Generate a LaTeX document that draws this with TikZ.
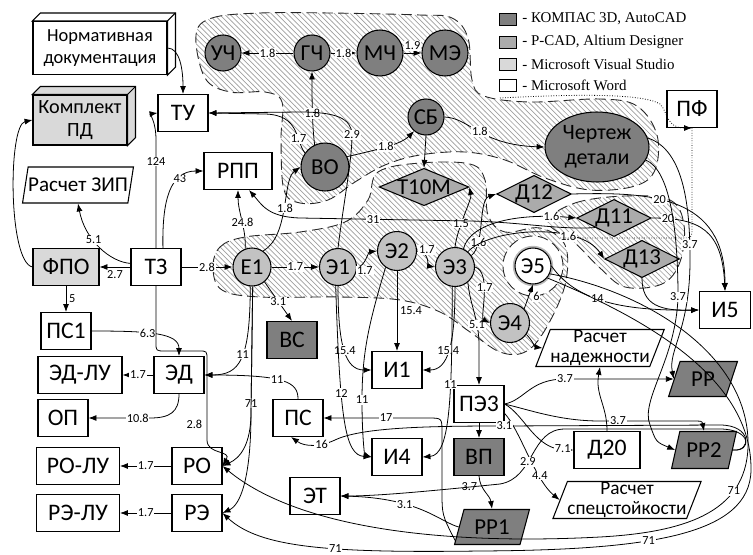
\documentclass[tikz,border=0pt]{standalone}
\usepackage{fontspec}
\setmainfont{Carlito}
\newfontfamily\legendfont{Liberation Serif}
\usetikzlibrary{shapes.geometric,arrows.meta,patterns}

\definecolor{kompas}{HTML}{7F7F7F}
\definecolor{pcad}{HTML}{ABABAB}
\definecolor{elem}{HTML}{C2C2C2}
\definecolor{vstudio}{HTML}{D9D9D9}

% top and side faces of a solid box
\newcommand{\boxdepth}[2]{%
  \draw[line width=0.6pt, fill=#2] (#1.north west) -- ([shift={(8,-8)}]#1.north west) -- ([shift={(8,-8)}]#1.north east) -- ([shift={(8,-8)}]#1.south east) -- (#1.south east) -- (#1.north east) -- cycle;
  \draw[line width=0.6pt] (#1.north east) -- ([shift={(8,-8)}]#1.north east);}

\begin{document}
\begin{tikzpicture}[x=0.02cm, y=-0.02cm,
  box/.style={draw, line width=0.6pt, fill=white, minimum width=1cm, minimum height=0.74cm, inner sep=1pt, font=\fontsize{13.5}{15}\selectfont},
  circ/.style={circle, draw, line width=0.6pt, fill=elem, minimum size=0.74cm, inner sep=0pt, font=\fontsize{13}{14}\selectfont},
  rhomb/.style={diamond, aspect=2, draw, line width=0.6pt, fill=pcad, minimum width=1.36cm, minimum height=0.72cm, inner sep=0pt, font=\fontsize{13}{14}\selectfont},
  slant/.style={trapezium, trapezium left angle=68, trapezium right angle=112, trapezium stretches=true, draw, line width=0.6pt, fill=white, minimum height=0.74cm, inner sep=0pt, align=center, font=\fontsize{11}{11.5}\selectfont},
  arr/.style={-{Latex[length=4.5pt,width=3.4pt]}, line width=0.45pt},
  lbl/.style={fill=white, inner sep=0.5pt, font=\fontsize{7}{8}\selectfont},
  zone/.style={pattern=north west lines, pattern color=gray!75, draw=gray!30!black, dash pattern=on 6pt off 3pt, line width=0.5pt},
  legbox/.style={draw, line width=0.5pt, minimum width=0.34cm, minimum height=0.24cm, inner sep=0pt},
  legtext/.style={anchor=west, inner sep=0pt, font=\legendfont\fontsize{8.5}{10}\selectfont}]

\useasboundingbox (0,0) rectangle (753,554);

% hatched groups
\path[zone] plot[smooth cycle, tension=0.6] coordinates {(196,35) (212,18) (260,13) (330,13) (420,15) (452,18) (468,38) (472,80) (484,96) (530,102) (600,99) (637,106) (657,135) (655,170) (635,186) (590,190) (545,178) (505,160) (465,152) (420,155) (385,165) (355,182) (328,200) (300,203) (284,190) (281,140) (282,102) (265,92) (230,92) (205,78)};
\path[zone] plot[smooth cycle, tension=0.6] coordinates {(213,268) (220,247) (245,237) (300,232) (345,222) (368,200) (378,172) (420,163) (470,164) (485,180) (488,215) (505,232) (540,228) (565,245) (565,285) (545,330) (525,352) (500,352) (470,332) (440,312) (400,300) (340,297) (260,297) (222,290)};
\path[zone] plot[smooth cycle, tension=0.6] coordinates {(548,222) (575,203) (625,196) (670,200) (684,225) (680,262) (662,284) (625,287) (600,268) (575,243)};
\draw[fill=white, draw=gray!30!black, dash pattern=on 6pt off 3pt, line width=0.5pt] (533,266) circle (0.6cm);

% legend
\node[legbox, fill=kompas] (lg1) at (508,19) {};
\node[legtext] (lt1) at (522,19) {- КОМПАС 3D, AutoCAD};
\node[legbox, fill=pcad] (lg2) at (508,42) {};
\node[legtext] (lt2) at (522,42) {- P-CAD, Altium Designer};
\node[legbox, fill=vstudio] (lg3) at (508,64) {};
\node[legtext] (lt3) at (522,64) {- Microsoft Visual Studio};
\node[legbox, fill=white] (lg4) at (508,85) {};
\node[legtext] (lt4) at (522,85) {- Microsoft Word};

% nodes
\node[box, minimum width=2.68cm, minimum height=1.06cm, align=center, font=\fontsize{10.5}{12.5}\selectfont] (norm) at (100,48) {Нормативная\\документация};
\boxdepth{norm}{white}
\node[box, fill=vstudio, minimum width=1.88cm, minimum height=1cm, align=center, font=\fontsize{11.5}{13.5}\selectfont] (kpd) at (80,120) {Комплект\\ПД};
\boxdepth{kpd}{vstudio}
\node[box] (tu) at (183,113) {ТУ};
\node[box, minimum width=1.36cm] (rpp) at (238,171) {РПП};
\node[slant, minimum width=2.2cm, minimum height=0.72cm, font=\fontsize{12}{13}\selectfont] (zip) at (78,185) {Расчет ЗИП};
\node[box, fill=vstudio, minimum width=1.32cm] (fpo) at (66,267) {ФПО};
\node[box] (tz) at (156,267) {ТЗ};
\node[box] (ps1) at (66,331) {ПС1};
\node[box] (ed) at (179,375) {ЭД};
\node[box, minimum width=1.68cm] (edlu) at (80,375) {ЭД-ЛУ};
\node[box] (op) at (63,418) {ОП};
\node[box, minimum width=1.66cm] (rolu) at (78,466) {РО-ЛУ};
\node[box] (ro) at (197,466) {РО};
\node[box, minimum width=1.66cm] (relu) at (78,513) {РЭ-ЛУ};
\node[box] (re) at (197,513) {РЭ};
\node[box, fill=kompas] (vs) at (292,340) {ВС};
\node[box] (ps) at (298,418) {ПС};
\node[box] (i1) at (397,370) {И1};
\node[box] (i4) at (397,457) {И4};
\node[box] (et) at (315,496) {ЭТ};
\node[box] (pez) at (479,404) {ПЭ3};
\node[box, fill=kompas] (vp) at (479,457) {ВП};
\node[slant, fill=kompas, minimum width=1.5cm, minimum height=0.7cm, font=\fontsize{13}{14}\selectfont] (rr1) at (492,527) {РР1};
\node[box, minimum width=1.32cm] (d20) at (607,450) {Д20};
\node[slant, minimum width=2.98cm] (spec) at (627,500) {Расчет\\спецстойкости};
\node[slant, fill=kompas, minimum width=1.38cm, minimum height=0.7cm, font=\fontsize{13}{14}\selectfont] (rr) at (703,379) {РР};
\node[slant, fill=kompas, minimum width=1.3cm, font=\fontsize{13}{14}\selectfont] (rr2) at (704,450) {РР2};
\node[slant, minimum width=2.32cm] (nad) at (600,348) {Расчет\\надежности};
\node[box, minimum width=1.02cm] (i5) at (725,310) {И5};
\node[box] (pf) at (692,109) {ПФ};
\node[rhomb] (d12) at (534,194) {Д12};
\node[rhomb] (d11) at (614,218) {Д11};
\node[rhomb] (d13) at (642,259) {Д13};
\node[rhomb, aspect=2.4, minimum width=1.74cm] (t10m) at (424,187) {Т10М};
\node[circ, minimum size=0.76cm] (e1) at (252,267) {Е1};
\node[circ] (eh1) at (338,267) {Э1};
\node[circ, minimum size=0.78cm] (eh2) at (397,251) {Э2};
\node[circ, minimum size=0.78cm] (eh3) at (455,267) {Э3};
\node[circ, minimum size=0.78cm] (eh4) at (510,323) {Э4};
\node[circ, fill=white, minimum size=0.72cm, preaction={draw=gray!55, line width=2.5pt}] (eh5) at (533,266) {Э5};
\node[circ, fill=kompas, minimum size=0.72cm] (uch) at (223,53) {УЧ};
\node[circ, fill=kompas, minimum size=0.72cm] (gch) at (312,53) {ГЧ};
\node[circ, fill=kompas, minimum size=0.92cm] (mch) at (380,53) {МЧ};
\node[circ, fill=kompas, minimum size=0.92cm] (me) at (445,53) {МЭ};
\node[circ, fill=kompas, minimum size=0.72cm] (sb) at (426,117) {СБ};
\node[circ, fill=kompas, minimum size=0.96cm] (vo) at (325,167) {ВО};
\node[ellipse, draw, line width=0.6pt, fill=kompas, minimum width=2.08cm, minimum height=1.4cm, inner sep=0pt, align=center, font=\fontsize{12.5}{14}\selectfont] (cher) at (597,147) {Чертеж\\детали};

% connectors
\draw[arr] (gch) -- node[lbl]{1.8} (uch);
\draw[arr] (gch) -- node[lbl]{1.8} (mch);
\draw[arr] (mch) -- node[lbl, above=1pt]{1.9} (me);
\draw[arr] (vo.115) .. controls (312,125) and (312,95) .. node[lbl, pos=0.45]{1.8} (gch.south);
\draw[arr] (vo.145) .. controls (295,140) and (300,115) .. node[lbl, pos=0.3]{1.7} (265,114) -- (tu.east);
\draw[arr] (eh1.north) .. controls (344,200) and (352,160) .. (352,135) node[lbl]{2.9} .. controls (352,118) and (335,112) .. (300,112) -- (tu.east);
\draw[arr] (vo.25) .. controls (375,150) and (400,145) .. node[lbl]{1.8} (sb.230);
\draw[arr] (sb.east) .. controls (470,118) and (480,145) .. node[lbl]{1.8} (cher.west);
\draw[arr] (sb.south) -- (t10m.north);
\draw[arr] (norm.east) .. controls (180,48) and (183,70) .. (tu.north);

\draw[arr] (tz.north) -- node[lbl, pos=0.8]{124} (156,140) .. controls (156,122) and (150,114) .. (tu.west);
\draw[arr] (tz.70) .. controls (162,200) and (170,171) .. node[lbl, pos=0.7]{43} (rpp.west);
\draw[arr] (tz.172) .. controls (110,262) and (85,240) .. node[lbl, pos=0.6]{5.1} (zip.south);
\draw[arr] (tz.west) -- node[lbl, below=1.5pt]{2.7} (fpo.east);
\draw[arr] (tz.east) -- node[lbl]{2.8} (e1.west);
\draw[arr] (fpo.west) .. controls (8,262) and (8,125) .. (kpd.west);
\draw[arr] (fpo.south) -- node[lbl, right=1pt]{5} (ps1.north);
\draw[arr] (ps1.east) .. controls (150,331) and (179,333) .. node[lbl, pos=0.4]{6.3} (ed.north);
\draw[arr] (ed) -- node[lbl]{1.7} (edlu);
\draw[arr] (ed.south) .. controls (179,412) and (170,418) .. (150,418) -- node[lbl, pos=0.2]{10.8} (op.east);
\draw[arr] (tz.south) -- (156,343) .. controls (156,351) .. (166,351) -- (199,351) .. controls (207,351) .. (207,360) -- node[lbl, left=2pt, pos=0.8]{2.8} (207,440) .. controls (207,455) and (232,450) .. (ro.east);

\draw[arr] (e1.110) .. controls (246,228) and (238,212) .. node[lbl, pos=0.45]{24.8} (rpp.south);
\draw[arr] (e1.55) .. controls (290,235) and (282,180) .. node[lbl]{1.8} (vo.west);
\draw[arr] (e1) -- node[lbl]{1.7} (eh1);
\draw[arr] (e1.-50) -- node[lbl]{3.1} (vs.north);
\draw[arr] (e1.265) .. controls (250,360) and (240,375) .. node[lbl, pos=0.45]{11} (ed.east);
\draw[arr] (e1.272) -- node[lbl, pos=0.93]{71} (251,412) .. controls (251,445) and (240,458) .. (ro.east);
\draw[arr] (e1.272) -- (251,412) .. controls (251,480) and (240,505) .. (re.east);
\draw[arr] (ps.north) .. controls (298,382) and (285,375) .. node[lbl, pos=0.55]{11} (ed.east);
\draw[arr] (ro) -- node[lbl]{1.7} (rolu);
\draw[arr] (re) -- node[lbl]{1.7} (relu);

\draw[arr] (eh1.east) .. controls (365,267) and (368,252) .. node[lbl, pos=0.4, below=2pt]{1.7} (eh2.west);
\draw[arr] (eh2.east) .. controls (430,252) and (428,266) .. node[lbl, pos=0.4, above=1pt]{1.7} (eh3.west);
\draw[arr] (eh2.south) -- node[lbl, right=1pt]{15.4} (i1.north);
\draw[arr] (eh1.south) .. controls (338,345) and (345,370) .. node[lbl]{15.4} (i1.west);
\draw[arr] (eh3.south) .. controls (455,345) and (448,370) .. node[lbl]{15.4} (i1.east);
\draw[arr] (eh1.263) .. controls (340,420) and (345,455) .. node[lbl, pos=0.35]{12} (i4.west);
\draw[arr] (eh2.235) .. controls (370,320) and (362,350) .. (362,400) node[lbl]{11} .. controls (362,440) and (365,455) .. (i4.west);
\draw[arr] (eh3.262) .. controls (452,400) and (450,455) .. node[lbl, pos=0.35]{11} (i4.east);
\draw[arr] (eh3.-50) .. controls (470,305) and (479,320) .. node[lbl, pos=0.7]{5.1} (479,345) -- (pez.north);
\draw[arr] (eh3.east) .. controls (492,272) and (480,318) .. node[lbl, pos=0.4]{1.7} (eh4.west);
\draw[arr] (eh3.north) .. controls (458,225) and (472,200) .. node[lbl, pos=0.35]{1.5} (t10m.east);
\draw[arr] (eh3.35) .. controls (485,245) and (478,200) .. node[lbl, pos=0.25]{1.6} (d12.west);
\draw[arr] (eh3.65) .. controls (470,222) and (520,213) .. node[lbl, pos=0.85]{1.6} (d11.west);
\draw[arr] (eh3.50) .. controls (490,228) and (580,222) .. node[lbl, pos=0.7]{1.6} (d13.west);
\draw[arr] (eh4.north east) -- node[lbl, right=2pt]{6} (eh5.south);
\draw[arr] (eh5.east) .. controls (575,300) and (620,311) .. node[lbl, pos=0.45]{14} (i5.west);
\draw[arr] (d12.east) .. controls (650,192) and (725,195) .. node[lbl, pos=0.4]{20} (i5.north);
\draw[arr] (d11.east) .. controls (700,218) and (722,230) .. node[lbl, pos=0.12]{20} (i5.north);
\draw[arr] (d13.south) .. controls (642,305) and (660,311) .. (i5.west);
\draw[arr] (eh4.-35) .. controls (532,340) and (535,347) .. (nad.west);
\draw[arr] (d20.north) .. controls (607,405) and (595,395) .. (nad.south);
\draw[arr] (d11.south west) .. controls (560,230) and (520,222) .. (470,221) -- node[lbl, pos=0.57]{31} (300,218) .. controls (268,217) and (262,205) .. (rpp.-60);

\draw[arr] (pez.east) .. controls (525,400) and (530,379) .. (565,379) node[lbl]{3.7} -- (rr.west);
\draw[arr] (pez.east) .. controls (530,410) and (560,421) .. (600,421) -- node[lbl, pos=0.2]{3.7} (690,421) .. controls (702,421) .. (rr2.north);
\draw[arr] (pez.east) .. controls (525,415) and (535,450) .. node[lbl, pos=0.9]{7.1} (d20.west);
\draw[arr] (pez.-20) .. controls (520,430) and (535,480) .. node[lbl, pos=0.7]{4.4} (spec.west);
\draw[arr] (pez) -- (vp);
\draw[arr] (vp.south) .. controls (480,490) and (490,495) .. node[lbl, pos=0.3, left=2pt]{3.7} (rr1.north);
\draw[arr] (rr1.west) .. controls (440,522) and (420,498) .. node[lbl, pos=0.65]{3.1} (et.east);
\draw[arr] (rr1.200) .. controls (442,515) .. (442,490) -- (442,432) .. controls (442,418) .. (428,418) -- node[lbl, pos=0.4]{17} (ps.east);
\draw[arr] (rr2.east) .. controls (752,452) and (752,425) .. (720,425) -- node[lbl, pos=0.98]{3.1} (500,426) .. controls (420,426) and (360,428) .. (335,440) .. controls (320,447) and (305,447) .. node[lbl, pos=0.3]{16} (ps.-110);
\draw[arr] (rr2.east) .. controls (752,452) and (752,429) .. (720,429) -- (565,429) .. controls (530,429) and (535,478) .. node[lbl, pos=0.6]{2.9} (500,484) .. controls (440,490) and (380,496) .. (et.east);

\draw[arr] (cher.10) .. controls (685,150) and (690,210) .. node[lbl, pos=0.9]{3.7} (690,260) .. controls (690,330) and (668,350) .. (rr.west);
\draw[arr] (cher.-15) .. controls (670,170) and (678,230) .. (678,297) node[lbl]{3.7} .. controls (676,360) and (640,400) .. (650,425) .. controls (656,442) .. (rr2.west);

\draw[arr] (eh5.-25) .. controls (640,290) and (745,350) .. (748,440) .. controls (750,510) and (690,532) .. node[lbl, pos=0.3]{71} (600,537) .. controls (450,545) and (300,530) .. (ro.east);
\draw[arr] (eh5.-40) .. controls (650,320) and (752,380) .. (751,470) .. controls (750,535) and (650,550) .. node[lbl, pos=0.6]{71} (480,551) .. controls (330,553) and (260,548) .. node[lbl, pos=0.4]{71} (re.east);

\draw[arr, densely dotted] (500,98) .. controls (560,95) and (640,92) .. (660,104) .. controls (668,112) and (666,128) .. (pf.south);
\draw[densely dotted] (pf.south) -- (692,228) .. controls (692,238) .. (680,238) -- (560,238);
\end{tikzpicture}
\end{document}
